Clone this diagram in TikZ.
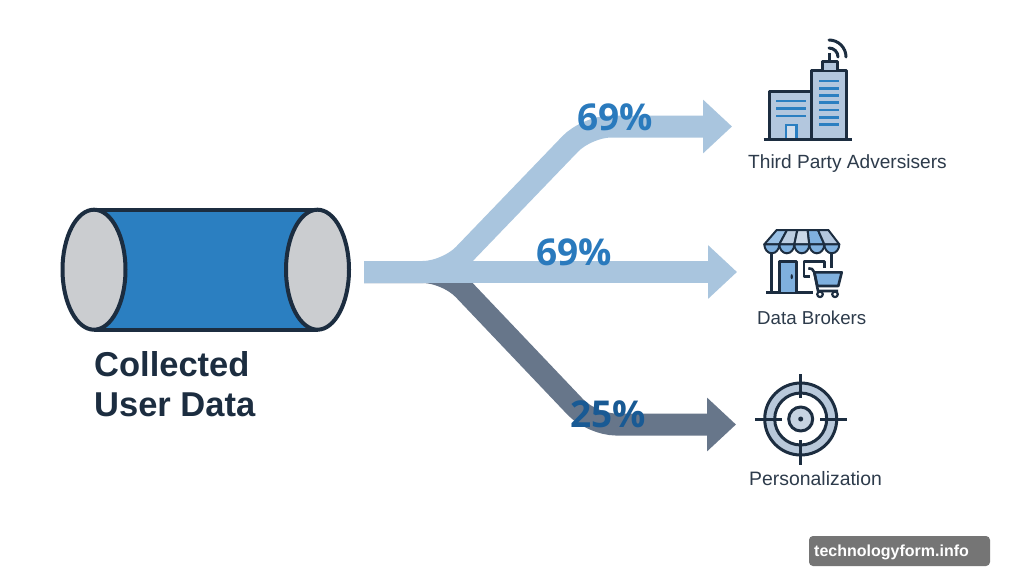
\documentclass[tikz,border=0pt]{standalone}
\usepackage{fontspec}
\setmainfont{Liberation Sans}
\newfontfamily\pctfont{Open Sans}
\usetikzlibrary{arrows.meta}
\definecolor{ink}{HTML}{1C2D40}
\definecolor{lightband}{HTML}{A9C5DE}
\definecolor{darkband}{HTML}{67768A}
\definecolor{bodyblue}{HTML}{2B7FC1}
\definecolor{capgrey}{HTML}{CBCDD0}
\definecolor{pctblue}{HTML}{2A7ABD}
\definecolor{pctdark}{HTML}{195A94}
\definecolor{paleblue}{HTML}{B3C7DE}
\definecolor{midblue}{HTML}{7FB0DE}
\definecolor{ringfill}{HTML}{B8C8DA}
\definecolor{labelgrey}{HTML}{2D3B4B}
\tikzset{
  band/.style={line width=22pt,rounded corners=24pt},
  lighttip/.style={-{Triangle[length=29pt,width=52pt]}},
  pct/.style={anchor=base west,inner sep=0pt,font=\pctfont\bfseries\fontsize{37}{37}\selectfont},
  lbl/.style={anchor=base west,inner sep=0pt,text=labelgrey,font=\fontsize{19.1}{20}\selectfont},
  ttl/.style={anchor=base west,inner sep=0pt,text=ink,font=\bfseries\fontsize{34.5}{34.5}\selectfont},
  icon/.style={draw=ink,line width=3pt,line join=round},
  win/.style={draw=bodyblue,line width=2.8pt},
}
\begin{document}
\begin{tikzpicture}[x=1pt,y=-1pt]
\useasboundingbox (0,0) rectangle (1024,576);
\fill[white] (0,0) rectangle (1024,576);
% cylinder
\fill[bodyblue] (94,209.7) -- (317.5,209.7) -- (317.5,329.7) -- (94,329.7) -- cycle;
\draw[icon,line width=4pt] (94,209.7) -- (317.5,209.7) (94,329.7) -- (317.5,329.7);
\draw[icon,line width=4pt,fill=capgrey] (94,269.7) ellipse [x radius=31.5,y radius=60];
\draw[icon,line width=4pt,fill=capgrey] (317.5,269.7) ellipse [x radius=31.5,y radius=60];
\node[ttl] (t1) at (94,376.7) {Collected};
\node[ttl] (t2) at (94,416.7) {User Data};
% connectors
\coordinate (src) at (364,272);
\coordinate (fork) at (447,272);
\coordinate (upbend) at (587,126.5);
\coordinate (upend) at (732,126.5);
\coordinate (midend) at (737,272);
\coordinate (downbend) at (592,424.5);
\coordinate (downend) at (736,424.5);
\draw[band,darkband,lighttip] (src) -- (fork) -- (downbend) -- (downend);
\draw[band,lightband,lighttip] (src) -- (fork) -- (upbend) -- (upend);
\draw[band,lightband,lighttip] (src) -- (midend);
\node[pct,text=pctblue] (p1) at (577,130.7) {69\%};
\node[pct,text=pctblue] (p2) at (536,265) {69\%};
\node[pct,text=pctdark] (p3) at (570,427.7) {25\%};
% building icon
\draw[icon,fill=paleblue] (769.3,139) -- (769.3,91) -- (811.7,91) -- (811.7,139);
\draw[icon,fill=paleblue] (811.7,139) -- (811.7,70) -- (846.7,70) -- (846.7,139);
\draw[icon,fill=paleblue] (822.3,70) -- (822.3,61.7) -- (837.3,61.7) -- (837.3,70);
\draw[icon] (829.7,61.7) -- (829.7,53);
\draw[icon,line cap=round] (829,48) arc [start angle=-90,end angle=0,radius=9];
\draw[icon,line cap=round] (829,40) arc [start angle=-90,end angle=0,radius=17];
\foreach \yy in {101,108.7,116} \draw[win] (776,\yy) -- (806,\yy);
\foreach \yy in {81,88.3,95.7,102.7,110,117.3,124.3} \draw[win] (819.3,\yy) -- (839.3,\yy);
\draw[win,fill=paleblue!60!white] (786,139) -- (786,125) -- (796.7,125) -- (796.7,139);
\draw[icon] (763.5,139.3) -- (851.7,139.3);
\node[lbl] (l1) at (748,168) {Third Party Adversisers};
% store icon
\draw[icon] (771.7,250) -- (771.7,292.3);
\draw[icon] (831.7,250) -- (831.7,268);
\draw[icon] (766,292.3) -- (813.3,292.3);
\draw[icon,fill=midblue] (779.3,292) -- (779.3,261.7) -- (796.7,261.7) -- (796.7,292);
\fill[ink] (791.7,276.7) ellipse [x radius=1.2,y radius=2.5];
\draw[icon,line width=2.6pt] (824.3,268) -- (824.3,261.7) -- (804,261.7) -- (804,276.7) -- (810,276.7);
% awning
\foreach \i/\c in {0/midblue!80!white,1/paleblue!90!white,2/paleblue!70!white,3/midblue,4/paleblue}{
  \pgfmathsetmacro{\ta}{776.7+\i*10.32}
  \pgfmathsetmacro{\tb}{776.7+(\i+1)*10.32}
  \pgfmathsetmacro{\ba}{764.3+\i*15}
  \pgfmathsetmacro{\bb}{764.3+(\i+1)*15}
  \pgfmathsetmacro{\rr}{7.5}
  \draw[icon,line width=2pt,fill=\c] (\ta,230) -- (\tb,230) -- (\bb,244.3) -- (\ba,244.3) -- cycle;
  \draw[icon,line width=2pt,fill=midblue] (\ba,244.3) arc [start angle=180,end angle=0,x radius=\rr,y radius=9] -- cycle;
}
% cart
\draw[icon,line width=2.6pt,fill=midblue] (814.3,272.3) -- (841.7,272.3) -- (838.3,286) -- (817.3,286) -- cycle;
\draw[icon,line width=2.6pt] (808.3,268.3) -- (812,269) -- (814.3,272.3) -- (818,291) -- (838,291);
\draw[icon,line width=2.2pt,fill=white] (820,294.3) circle [radius=2.8];
\draw[icon,line width=2.2pt,fill=white] (835,294.3) circle [radius=2.8];
\node[lbl,font=\fontsize{18.7}{20}\selectfont] (l2) at (757,324) {Data Brokers};
% target icon
\coordinate (tc) at (800.7,419);
\draw[icon,fill=ringfill] (tc) circle [radius=36];
\draw[icon,fill=white] (tc) circle [radius=26];
\draw[icon,fill=ringfill!80!white] (tc) circle [radius=12];
\fill[ink] (tc) circle [radius=2.5];
\draw[icon] (800.7,374) -- (800.7,398.3) (800.7,440) -- (800.7,465) (755,419) -- (781.7,419) (820,419) -- (847.3,419);
\node[lbl,font=\fontsize{19.4}{20}\selectfont] (l3) at (749,485) {Personalization};
% watermark
\fill[rounded corners=4pt,fill=black!54] (809,536) rectangle (990,566);
\node[anchor=base west,inner sep=0pt,text=white,font=\bfseries\fontsize{16}{16}\selectfont] (wm) at (814,556) {technologyform.info};
\end{tikzpicture}
\end{document}
